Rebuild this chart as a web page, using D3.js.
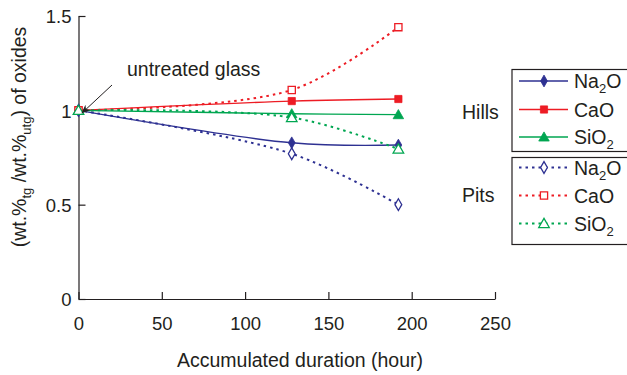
<!DOCTYPE html>
<html>
<head>
<meta charset="utf-8">
<script src="https://cdn.jsdelivr.net/npm/d3@7"></script>
<style>
  html, body { margin: 0; padding: 0; background: #fff; }
  svg { display: block; font-family: "Liberation Sans", Arial, sans-serif; }
</style>
</head>
<body>
<svg id="chart" width="627" height="375"></svg>
<script>
// Accumulated duration (hours) at each measurement
const hours = [0, 128, 192];

// Hills: normalised oxide ratios
const hillsNa2O = [1, 0.828, 0.816];
const hillsCaO  = [1, 1.049, 1.060];
const hillsSiO2 = [1, 0.982, 0.977];

// Pits: normalised oxide ratios
const pitsNa2O = [1, 0.770, 0.500];
const pitsCaO  = [1, 1.108, 1.441];
const pitsSiO2 = [1, 0.962, 0.795];

const xTicks = [0, 50, 100, 150, 200, 250];
const yTicks = [0, 0.5, 1, 1.5];
const yTickLabels = ["0", "0.5", "1", "1.5"];

const NAVY = "#2e3192", RED = "#ed1c24", GREEN = "#00a651";

const series = [
  { group: "Hills", name: "Na", sub: "2", tail: "O", values: hillsNa2O, color: NAVY,  symbol: d3.symbolDiamond,  open: false, dotted: false },
  { group: "Hills", name: "CaO", sub: "", tail: "", values: hillsCaO,  color: RED,   symbol: d3.symbolSquare,   open: false, dotted: false },
  { group: "Hills", name: "SiO", sub: "2", tail: "", values: hillsSiO2, color: GREEN, symbol: d3.symbolTriangle, open: false, dotted: false },
  { group: "Pits",  name: "Na", sub: "2", tail: "O", values: pitsNa2O,  color: NAVY,  symbol: d3.symbolDiamond,  open: true,  dotted: true },
  { group: "Pits",  name: "CaO", sub: "", tail: "", values: pitsCaO,   color: RED,   symbol: d3.symbolSquare,   open: true,  dotted: true },
  { group: "Pits",  name: "SiO", sub: "2", tail: "", values: pitsSiO2,  color: GREEN, symbol: d3.symbolTriangle, open: true,  dotted: true }
];

const svg = d3.select("#chart");

const x = d3.scaleLinear().domain([0, 250]).range([78.5, 495]);
const y = d3.scaleLinear().domain([0, 1.5]).range([299, 16]);

// Axes with inward ticks
const gx = svg.append("g").attr("transform", `translate(0,${y(0)})`)
  .call(d3.axisBottom(x).tickValues(xTicks).tickSizeInner(-7).tickSizeOuter(0).tickPadding(18).tickFormat(d3.format("d")));
const gy = svg.append("g").attr("transform", `translate(${x(0)},0)`)
  .call(d3.axisLeft(y).tickValues(yTicks).tickSizeInner(-7).tickSizeOuter(0).tickPadding(7)
    .tickFormat((d, i) => yTickLabels[i]));

[gx, gy].forEach(g => {
  g.select(".domain").attr("stroke", "#231f20").attr("stroke-width", 1.2);
  g.selectAll(".tick line").attr("stroke", "#231f20").attr("stroke-width", 1.2);
  g.selectAll(".tick text").attr("fill", "#231f20").attr("font-size", 18.5).attr("font-family", "Liberation Sans, Arial, sans-serif");
});
gy.selectAll(".tick text").attr("dy", "0.36em");

// Axis titles
svg.append("text")
  .attr("x", 300).attr("y", 367)
  .attr("text-anchor", "middle").attr("font-size", 19.5).attr("fill", "#231f20")
  .text("Accumulated duration (hour)");

const yTitle = svg.append("text")
  .attr("transform", "translate(26,137) rotate(-90)")
  .attr("text-anchor", "middle").attr("font-size", 19.5).attr("fill", "#231f20");
yTitle.append("tspan").text("(wt.%");
yTitle.append("tspan").attr("font-size", 13).attr("dy", 5).text("tg");
yTitle.append("tspan").attr("dy", -5).text(" /wt.%");
yTitle.append("tspan").attr("font-size", 13).attr("dy", 5).text("utg");
yTitle.append("tspan").attr("dy", -5).text(") of oxides");

// Series lines (smoothed) and markers
const line = d3.line()
  .x((d, i) => x(hours[i]))
  .y(d => y(d))
  .curve(d3.curveCatmullRom.alpha(0.5));

const symSize = s => s === d3.symbolTriangle ? 48 : (s === d3.symbolDiamond ? 40 : 52);

series.forEach(s => {
  svg.append("path")
    .attr("d", line(s.values))
    .attr("fill", "none")
    .attr("stroke", s.color)
    .attr("stroke-width", s.dotted ? 2 : 1.4)
    .attr("stroke-dasharray", s.dotted ? "2.5,4" : null);
});

series.forEach(s => {
  svg.append("g").selectAll("path")
    .data(s.values)
    .join("path")
    .attr("transform", (d, i) => `translate(${x(hours[i])},${y(d) + (s.symbol === d3.symbolTriangle ? 1 : 0)})`)
    .attr("d", d3.symbol(s.symbol, symSize(s.symbol)))
    .attr("fill", s.open ? "#fff" : s.color)
    .attr("stroke", s.color)
    .attr("stroke-width", s.open ? 1.3 : 0.8);
});

// Annotation with arrow
svg.append("defs").append("marker")
  .attr("id", "arrowhead").attr("viewBox", "0 0 10 10")
  .attr("refX", 9).attr("refY", 5)
  .attr("markerWidth", 9).attr("markerHeight", 9)
  .attr("orient", "auto").attr("markerUnits", "userSpaceOnUse")
  .append("path").attr("d", "M0,1 L10,5 L0,9 L3,5 Z").attr("fill", "#231f20");

svg.append("line")
  .attr("x1", 112).attr("y1", 85).attr("x2", 82).attr("y2", 113)
  .attr("stroke", "#231f20").attr("stroke-width", 1)
  .attr("marker-end", "url(#arrowhead)");

svg.append("text")
  .attr("x", 127).attr("y", 76)
  .attr("font-size", 19.5).attr("fill", "#231f20")
  .text("untreated glass");

// Legend
const legendBoxes = [
  { group: "Hills", top: 69.5, bottom: 151.5, labelY: 118.5, rows: [88, 116.5, 144] },
  { group: "Pits",  top: 157.5, bottom: 244.5, labelY: 202, rows: [174.5, 202.5, 230.5] }
];

legendBoxes.forEach(b => {
  svg.append("rect")
    .attr("x", 512).attr("y", b.top)
    .attr("width", 140).attr("height", b.bottom - b.top)
    .attr("fill", "none").attr("stroke", "#231f20").attr("stroke-width", 1.2);

  svg.append("text")
    .attr("x", 462).attr("y", b.labelY)
    .attr("font-size", 19.5).attr("fill", "#231f20")
    .text(b.group);

  series.filter(s => s.group === b.group).forEach((s, i) => {
    const base = b.rows[i];
    const cy = base - 7;
    svg.append("line")
      .attr("x1", 519).attr("x2", 568).attr("y1", cy).attr("y2", cy)
      .attr("stroke", s.color)
      .attr("stroke-width", s.dotted ? 2 : 1.4)
      .attr("stroke-dasharray", s.dotted ? "2.5,4" : null);
    svg.append("path")
      .attr("transform", `translate(544,${cy + (s.symbol === d3.symbolTriangle ? 1 : 0)})`)
      .attr("d", d3.symbol(s.symbol, symSize(s.symbol)))
      .attr("fill", s.open ? "#fff" : s.color)
      .attr("stroke", s.color)
      .attr("stroke-width", s.open ? 1.3 : 0.8);
    const t = svg.append("text")
      .attr("x", 574).attr("y", base)
      .attr("font-size", 19.5).attr("fill", "#231f20");
    t.append("tspan").text(s.name);
    if (s.sub) t.append("tspan").attr("font-size", 13).attr("dy", 5).text(s.sub);
    if (s.tail) t.append("tspan").attr("dy", -5).text(s.tail);
  });
});
</script>
</body>
</html>
